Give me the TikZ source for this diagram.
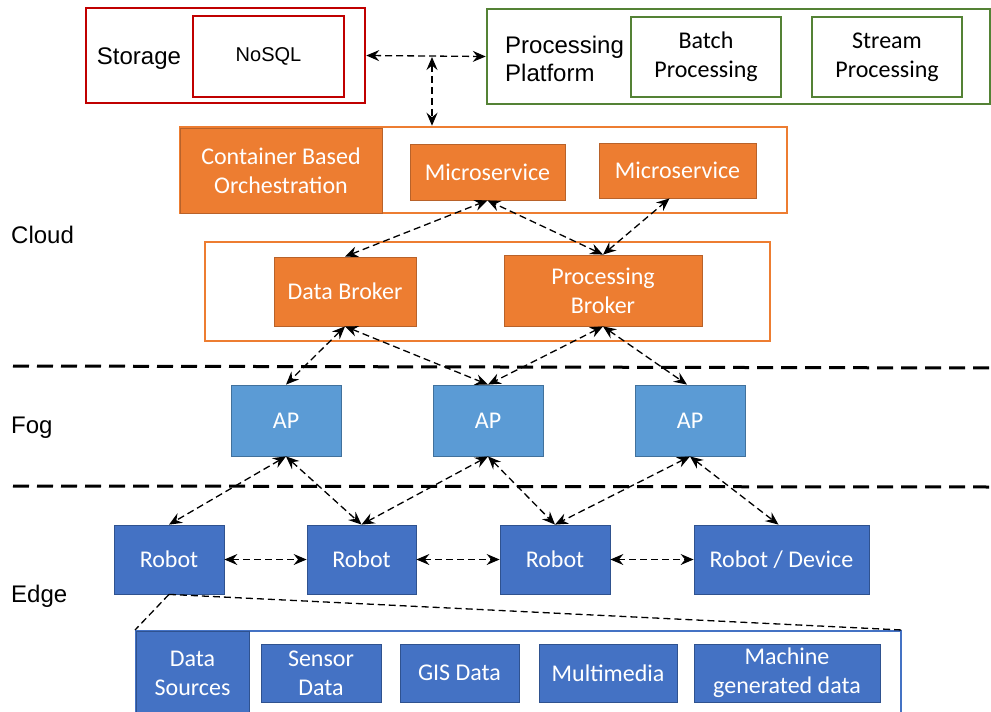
\documentclass[tikz,border=0pt]{standalone}
\usepackage{fontspec}
\setmainfont{Carlito}
\newfontfamily\arialf{Liberation Sans}
\usetikzlibrary{arrows.meta}
\definecolor{cred}{HTML}{C00000}
\definecolor{cgreen}{HTML}{548235}
\definecolor{corange}{HTML}{ED7D31}
\definecolor{corangeD}{HTML}{B8622A}
\definecolor{capblue}{HTML}{5B9BD5}
\definecolor{capblueD}{HTML}{41719C}
\definecolor{crblue}{HTML}{4472C4}
\definecolor{crblueD}{HTML}{2F528F}
\tikzset{
  bx/.style={rectangle, inner sep=0pt, align=center, font=\fontsize{24}{29}\selectfont},
  redbox/.style={bx, draw=cred, line width=2.5pt},
  greenbox/.style={bx, draw=cgreen, line width=2.5pt},
  orbox/.style={bx, draw=corange, line width=2.5pt},
  orfill/.style={bx, fill=corange, draw=corangeD, line width=0.8pt, text=white},
  apfill/.style={bx, fill=capblue, draw=capblueD, line width=0.8pt, text=white},
  rbfill/.style={bx, fill=crblue, draw=crblueD, line width=0.8pt, text=white},
  bluebox/.style={bx, draw=crblue, line width=2pt},
  lbl/.style={inner sep=0pt, font=\arialf\fontsize{24}{28}\selectfont},
  conn/.style={draw=black, line width=1.3pt, dash pattern=on 7pt off 4pt, {Stealth[length=13pt,width=11pt,inset=4.5pt]}-{Stealth[length=13pt,width=11pt,inset=4.5pt]}},
  plainconn/.style={draw=black, line width=1.3pt, dash pattern=on 7pt off 4pt},
  sep/.style={draw=black, line width=3pt, dash pattern=on 16pt off 8pt}
}
\begin{document}
\begin{tikzpicture}[x=1pt,y=-1pt]
\useasboundingbox (0,0) rectangle (991,712);
% top
\node[redbox, minimum width=279pt, minimum height=95pt] (storage) at (225.5,55.5) {};
\node[lbl] (storagelbl) at (139,59) {Storage};
\node[redbox, minimum width=151pt, minimum height=81pt, font=\arialf\fontsize{20}{24}\selectfont] (nosql) at (268.5,56.5) {NoSQL};
\node[greenbox, minimum width=503pt, minimum height=95pt] (proc) at (738.5,56.5) {};
\node[lbl, anchor=west, align=left] (proclbl) at (505,59) {Processing\\Platform};
\node[greenbox, minimum width=150pt, minimum height=80pt] (batch) at (706,57) {Batch\\Processing};
\node[greenbox, minimum width=150pt, minimum height=80pt] (stream) at (887,57) {Stream\\Processing};
% cloud
\node[orbox, minimum width=607pt, minimum height=86pt] (cloud1) at (483.5,170) {};
\node[orfill, minimum width=202pt, minimum height=85pt] (cbo) at (281,170.5) {Container Based\\Orchestration};
\node[orfill, minimum width=155pt, minimum height=56pt] (ms1) at (487.5,172) {Microservice};
\node[orfill, minimum width=157pt, minimum height=55pt] (ms2) at (677.5,170.5) {Microservice};
\node[orbox, minimum width=565pt, minimum height=99pt] (cloud2) at (487.5,291.5) {};
\node[orfill, minimum width=142pt, minimum height=69pt] (db) at (345,291.5) {Data Broker};
\node[orfill, minimum width=198pt, minimum height=71pt] (pb) at (603,290.5) {Processing\\Broker};
% labels
\node[lbl, anchor=west] (cloudlbl) at (11,235) {Cloud};
\node[lbl, anchor=west] (foglbl) at (11,428) {Fog};
\node[lbl, anchor=west] (edgelbl) at (11,596) {Edge};
% separators
\coordinate (s1a) at (13,366); \coordinate (s1b) at (991,368);
\coordinate (s2a) at (13,486); \coordinate (s2b) at (991,487);
\draw[sep] (s1a) -- (s1b);
\draw[sep] (s2a) -- (s2b);
% fog
\node[apfill, minimum width=110pt, minimum height=71pt] (ap1) at (286,420.5) {AP};
\node[apfill, minimum width=110pt, minimum height=71pt] (ap2) at (488,420.5) {AP};
\node[apfill, minimum width=110pt, minimum height=71pt] (ap3) at (690,420.5) {AP};
% edge
\node[rbfill, minimum width=110pt, minimum height=69pt] (r1) at (169,559.5) {Robot};
\node[rbfill, minimum width=109pt, minimum height=69pt] (r2) at (361.5,559.5) {Robot};
\node[rbfill, minimum width=110pt, minimum height=69pt] (r3) at (555,559.5) {Robot};
\node[rbfill, minimum width=175pt, minimum height=69pt] (r4) at (781.5,559.5) {Robot / Device};
% data sources
\node[bluebox, minimum width=765pt, minimum height=85pt] (dsouter) at (518.5,673.5) {};
\node[rbfill, minimum width=113pt, minimum height=85pt] (ds) at (192.5,673.5) {};
\node[inner sep=0pt, align=center, text=white, font=\fontsize{24}{29}\selectfont] (dstext) at (192.5,673.5) {Data\\Sources};
\node[rbfill, minimum width=120pt, minimum height=58pt] (sensor) at (321,673) {Sensor\\Data};
\node[rbfill, minimum width=119pt, minimum height=58pt] (gis) at (459.5,673) {GIS Data};
\node[rbfill, minimum width=138pt, minimum height=58pt] (mm) at (608,673) {Multimedia};
\node[rbfill, minimum width=186pt, minimum height=58pt] (mgd) at (787,673) {Machine\\generated data};
% connectors
\coordinate (junc) at (432,57);
\draw[conn] (storage.east) -- (proc.west);
\draw[conn] (junc) -- (junc |- cloud1.north);
\draw[conn] (db.north) -- (ms1.south);
\draw[conn] (pb.north) -- (ms1.south);
\draw[conn] (pb.north) -- ([xshift=-8pt]ms2.south);
\draw[conn] (db.south) -- (ap1.north);
\draw[conn] (db.south) -- (ap2.north);
\draw[conn] (pb.south) -- (ap2.north);
\draw[conn] (pb.south) -- ([xshift=-3pt]ap3.north);
\draw[conn] (ap1.south) -- (r1.north);
\draw[conn] (ap1.south) -- (r2.north);
\draw[conn] (ap2.south) -- (r2.north);
\draw[conn] (ap2.south) -- (r3.north);
\draw[conn] (ap3.south) -- (r3.north);
\draw[conn] (ap3.south) -- ([xshift=-3pt]r4.north);
\draw[conn] (r1.east) -- (r2.west);
\draw[conn] (r2.east) -- (r3.west);
\draw[conn] (r3.east) -- (r4.west);
\draw[plainconn] (r1.south) -- (dsouter.north west);
\draw[plainconn] (r1.south) -- (dsouter.north east);
\end{tikzpicture}
\end{document}
